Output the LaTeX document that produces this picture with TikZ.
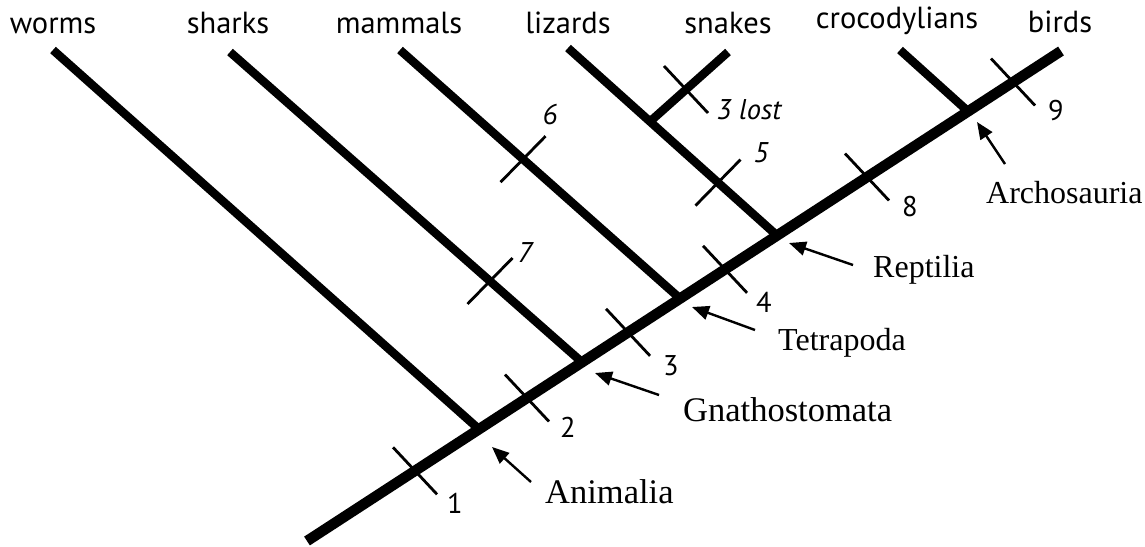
\documentclass[tikz,border=0pt]{standalone}
\usepackage{fontspec}
\setmainfont{Liberation Serif}
\setsansfont{PT Sans}
\usetikzlibrary{arrows.meta,calc}
\begin{document}
\begin{tikzpicture}[x=1pt,y=-1pt,
  trunk/.style={line width=10.5pt},
  branch/.style={line width=8.5pt},
  tickmark/.style={line width=2.8pt},
  pointer/.style={line width=2.4pt,-{Triangle[length=17pt,width=14pt]}},
  taxon/.style={font=\sffamily\fontsize{30.5}{36}\selectfont,anchor=base,inner sep=0pt},
  num/.style={font=\sffamily\fontsize{28.5}{34}\selectfont,anchor=base,inner sep=0pt},
  inum/.style={num,font=\sffamily\itshape\fontsize{28.5}{34}\selectfont},
  clade/.style={font=\rmfamily\fontsize{32}{38}\selectfont,anchor=base west,inner sep=0pt},
  bigclade/.style={clade,font=\rmfamily\fontsize{34.5}{40}\selectfont}]
\useasboundingbox (0,0) rectangle (1145,546);

% taxa along the top
\node[taxon] (worms)  at (53,33)   {worms};
\node[taxon] (sharks) at (228,33)  {sharks};
\node[taxon] (mamm)   at (399,33)  {mammals};
\node[taxon] (liz)    at (568,33)  {lizards};
\node[taxon] (snk)    at (728,33)  {snakes};
\node[taxon] (croc)   at (897,28)  {crocodylians};
\node[taxon] (bird)   at (1060,32) {birds};

% tips of the branches
\coordinate (wormsTip)  at (53,50);
\coordinate (sharksTip) at (230,52);
\coordinate (mammTip)   at (400,50);
\coordinate (lizTip)    at (568,48);
\coordinate (snkTip)    at (728,52);
\coordinate (crocTip)   at (900,50);

% the trunk and its nodes
\coordinate (root)  at (307,541);
\coordinate (birdTip) at (1061,51);
\coordinate (jAnim) at (479,429.2);
\coordinate (jGnat) at (582,362.2);
\coordinate (jTetr) at (680,298.5);
\coordinate (jRept) at (777,235.5);
\coordinate (jArch) at (968,111.3);
\coordinate (jSqua) at (650,121.6);

\draw[trunk] (root) -- (birdTip);
\draw[branch] (wormsTip)  -- (jAnim);
\draw[branch] (sharksTip) -- (jGnat);
\draw[branch] (mammTip)   -- (jTetr);
\draw[branch] (lizTip)    -- (jRept);
\draw[branch] (crocTip)   -- (jArch);
\draw[branch] (jSqua)     -- (snkTip);

% character changes on the trunk
\foreach \p in {(415,470.8),(527,398),(628,332.3),(725,269.3),(867,177),(1013,82)}
  \draw[tickmark] \p ++(-22,-23.5) -- ++(44,47);
% character changes on the side branches
\foreach \p in {(490,281),(523,159.2),(718,182.6)}
  \draw[tickmark] \p ++(-22.5,23) -- ++(45,-46);
\draw[tickmark] (686,89.5) ++(-22,-23.5) -- ++(44,47);

% character numbers
\node[num]  (n1) at (455,513) {1};
\node[num]  (n2) at (568,437) {2};
\node[num]  (n3) at (671,375) {3};
\node[num]  (n4) at (764,312) {4};
\node[num]  (n8) at (910,216) {8};
\node[num]  (n9) at (1056,120) {9};
\node[inum] (n5) at (761,162) {5};
\node[inum] (n6) at (550,124) {6};
\node[inum] (n7) at (525,262) {7};
\node[inum] (nl) at (749,119) {3 lost};

% clade names with pointers
\node[bigclade] (anim) at (545,503) {Animalia};
\node[bigclade] (gnat) at (683,421) {Gnathostomata};
\node[clade] (tetr) at (778,350) {Tetrapoda};
\node[clade] (rept) at (873,277) {Reptilia};
\node[clade] (arch) at (986,203) {Archosauria};

\coordinate (pAnim) at (531,482);
\coordinate (pGnat) at (659,395);
\coordinate (pTetr) at (755,330);
\coordinate (pRept) at (853,265);
\coordinate (pArch) at (1005,164);
\coordinate (hAnim) at (492,447);
\coordinate (hGnat) at (595,373);
\coordinate (hTetr) at (692,307);
\coordinate (hRept) at (789,243);
\coordinate (hArch) at (977,122);

\draw[pointer] (pAnim) -- (hAnim);
\draw[pointer] (pGnat) -- (hGnat);
\draw[pointer] (pTetr) -- (hTetr);
\draw[pointer] (pRept) -- (hRept);
\draw[pointer] (pArch) -- (hArch);
\end{tikzpicture}
\end{document}
